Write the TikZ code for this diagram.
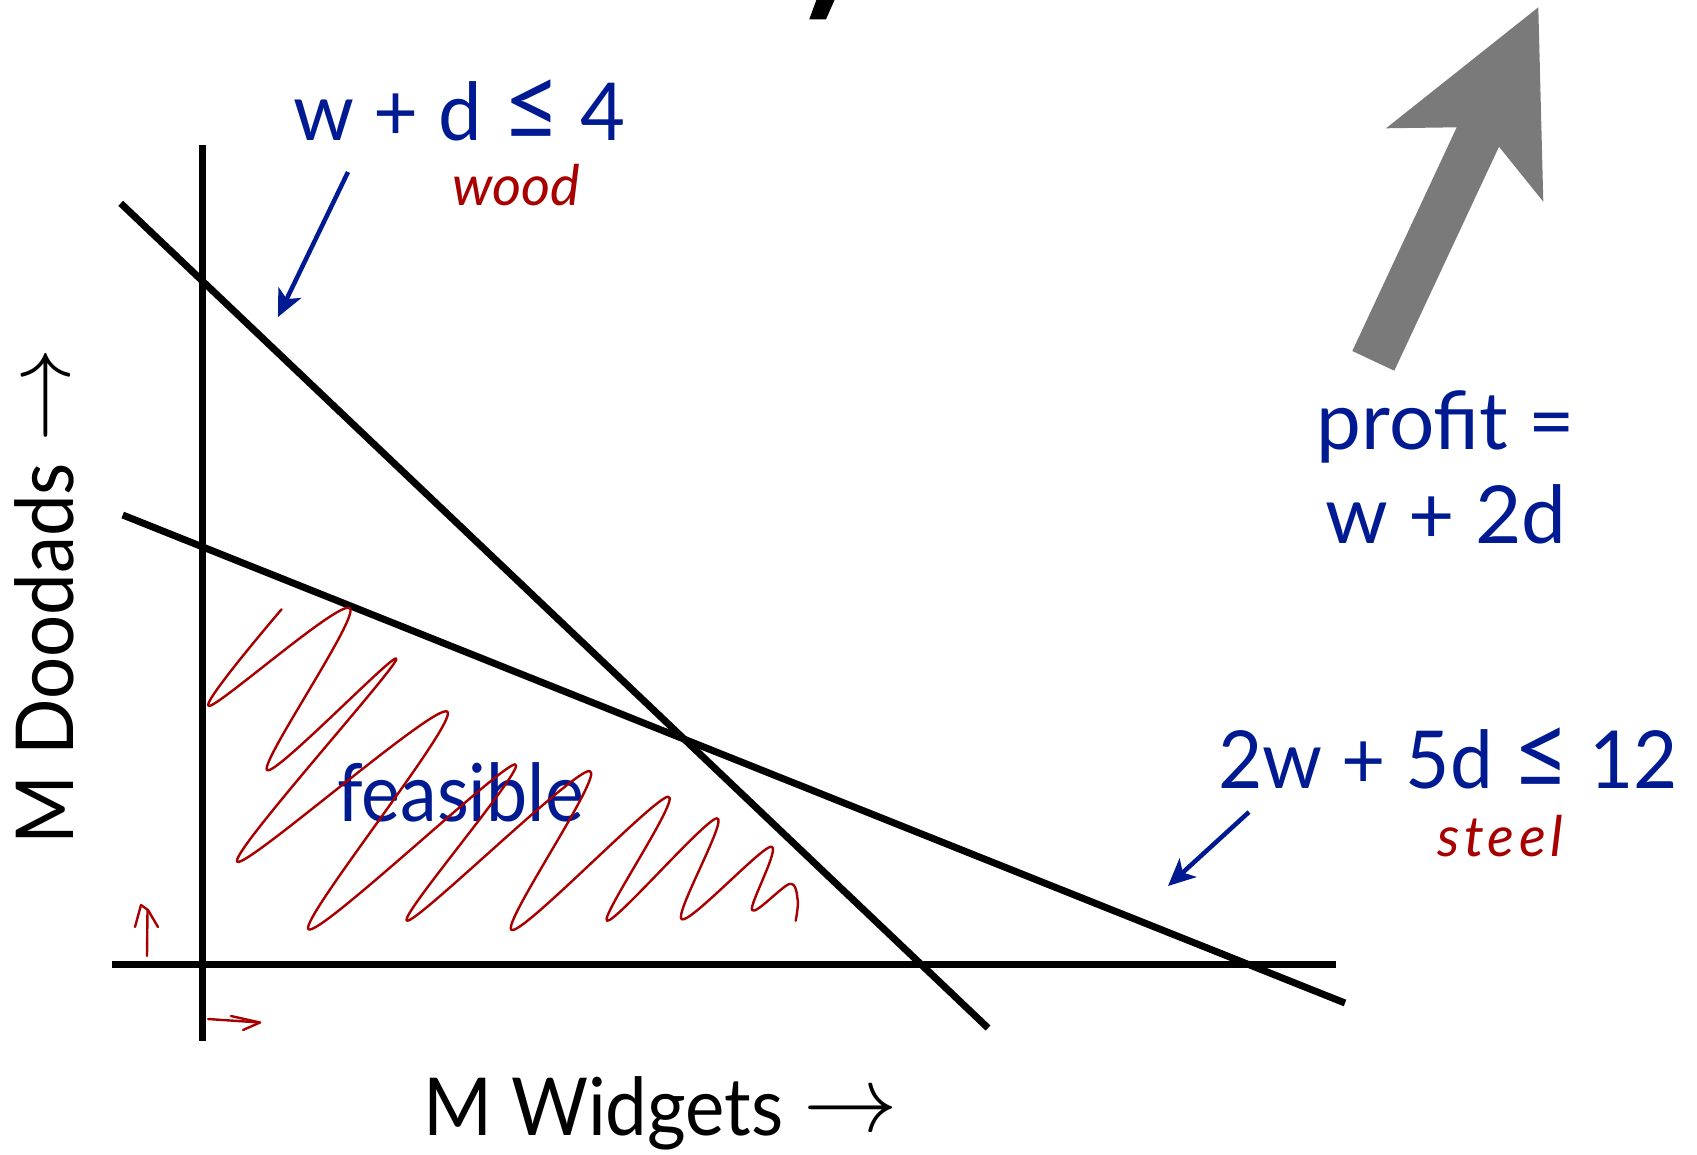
\documentclass[tikz,border=0pt]{standalone}
\usepackage{fontspec}
\usepackage{graphicx}
\setmainfont{Lato}
\usetikzlibrary{arrows.meta}
\definecolor{kblue}{RGB}{0,26,146}
\definecolor{kred}{RGB}{168,0,0}
\definecolor{kgray}{RGB}{122,122,122}
\newcommand\mle{\scalebox{1.3}{≤}}
\newcommand\mrarr{\raisebox{4pt}{\scalebox{3.8}{$\rightarrow$}}}
\begin{document}
\begin{tikzpicture}[x=1pt,y=-1pt,
  axis/.style={line width=7pt},
  bigtext/.style={font=\fontsize{80}{96}\selectfont, inner sep=0pt, outer sep=0pt},
  bluetext/.style={bigtext, text=kblue},
  hand/.style={font=\fontsize{56}{60}\selectfont\itshape, text=kred, inner sep=0pt},
  bluearrow/.style={draw=kblue, line width=4.5pt, -{Stealth[length=27pt,width=25pt,inset=7pt]}},
  redpen/.style={draw=kred, line width=2.4pt, line cap=round, line join=round}]
\useasboundingbox (0,0) rectangle (1697,1154);
% partial title glyph at top edge
\fill (816.7,-1) -- (835,-1) -- (826,19.3) -- (809.3,19.3) -- cycle;
% axes
\coordinate (ytop) at (202.7,145);
\coordinate (ybot) at (202.7,1041);
\coordinate (xl) at (112,964);
\coordinate (xr) at (1336,964);
\draw[axis] (ytop) -- (ybot);
\draw[axis] (xl) -- (xr);
% constraint lines
\coordinate (w1) at (120.7,203.3);
\coordinate (w2) at (988,1028);
\coordinate (s1) at (122.7,515);
\coordinate (s2) at (1345,1003);
\draw[axis] (w1) -- (w2);
\draw[axis] (s1) -- (s2);
% labels
\node[bluetext, anchor=base west] (woodc) at (293,140) {\scalebox{0.97}[1]{w + d \mle{} 4}};
\node[hand, anchor=base west] (woodh) at (452,205) {wood};
\node[bluetext, anchor=base west] (steelc) at (1218,788) {\scalebox{0.955}[1]{2w + 5d \mle{} 12}};
\node[hand, anchor=base west] (steelh) at (1437,856) {\addfontfeature{LetterSpace=8}steel};
\node[bluetext, anchor=base] (prof1) at (1446,449) {profit =};
\node[bluetext, anchor=base] (prof2) at (1446,543) {w + 2d};
\node[bluetext, anchor=base west] (feas) at (337,821) {\scalebox{0.92}[1]{feasible}};
\node[bigtext, anchor=base west] (xlab) at (423,1135) {\scalebox{0.93}[1]{M Widgets} \mrarr};
\node[bigtext, anchor=base west, rotate=90] (ylab) at (73.6,844) {\scalebox{0.93}[1]{M Doodads} \mrarr};
% blue arrows
\coordinate (wa1) at (348,172);
\coordinate (wa2) at (278,317);
\coordinate (sa1) at (1249,812);
\coordinate (sa2) at (1168,886);
\draw[bluearrow] (wa1) -- (wa2);
\draw[bluearrow] (sa1) -- (sa2);
% gray profit arrow
\fill[kgray] (1538.3,7.3) -- (1543.3,201.7) -- (1499,146.7) -- (1394.3,370.7)
  -- (1352.3,351) -- (1456.7,127.3) -- (1386,128.3) -- cycle;
% scribble
\draw[redpen] plot[smooth, tension=0.55] coordinates {
 (281.6,609.3) (209,706) (350,608.3) (267,770) (396.4,659.3) (237.2,861.7)
 (447.4,711.7) (308.5,929.3) (515,764.3) (407.2,920.7) (589.6,771) (511.7,930)
 (668,796.7) (607,920.7) (717,818.3) (681.7,919.3) (770.8,846.7) (752,910)
 (789.5,884) (797.7,900) (795.7,920.7)};
% small red arrows
\draw[redpen] (147,956) -- (147.5,910);
\draw[redpen] (135,927) -- (141,905) -- (148,910) -- (158,927);
\draw[redpen] (208,1019) -- (260,1022.5);
\draw[redpen] (231,1016) -- (260,1022.5) -- (243,1030);
\end{tikzpicture}
\end{document}
